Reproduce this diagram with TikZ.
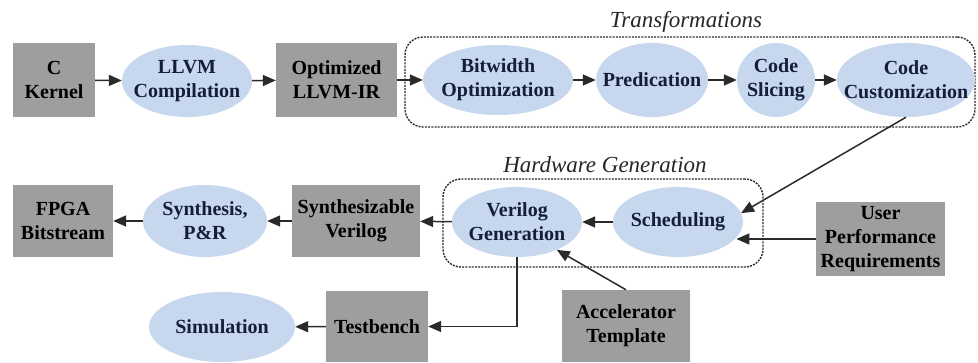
\documentclass[tikz,border=0pt]{standalone}
\usepackage{fontspec}
\setmainfont{Liberation Serif}
\usetikzlibrary{arrows.meta,shapes.geometric}
\definecolor{boxgray}{HTML}{9E9E9E}
\definecolor{ellblue}{HTML}{C6D7EE}
\definecolor{elltext}{HTML}{141E36}
\definecolor{linegray}{HTML}{2A2A2A}
\begin{document}
\begin{tikzpicture}[x=1pt,y=-1pt,
  gbox/.style={rectangle, fill=boxgray, draw=none, inner sep=0pt, align=center,
    font=\fontsize{20}{24}\selectfont\bfseries, text=black},
  ell/.style={ellipse, fill=ellblue, draw=none, inner sep=0pt},
  etxt/.style={align=center, font=\fontsize{20}{24}\selectfont\bfseries, text=elltext, inner sep=0pt},
  flow/.style={draw=linegray, line width=1.5pt, -{Triangle[length=13pt,width=11pt]}},
  group/.style={rectangle, draw=linegray, line width=1.4pt, dash pattern=on 2pt off 1.2pt,
    rounded corners=18pt, inner sep=0pt},
  glabel/.style={font=\fontsize{23}{26}\selectfont\itshape, text=black!85, inner sep=0pt, anchor=base}
]
\useasboundingbox (0,0) rectangle (978,362);

% group frames
\node[group, minimum width=570pt, minimum height=90pt] (trbox) at (690,82) {};
\node[glabel] (trlab) at (686,27) {Transformations};
\node[group, minimum width=320pt, minimum height=88pt] (hwbox) at (603,223) {};
\node[glabel] (hwlab) at (605,172) {Hardware Generation};

% top row
\node[gbox, minimum width=82pt, minimum height=74pt] (ck) at (54,80) {C\\Kernel};
\node[ell, minimum width=130pt, minimum height=72pt, label={[etxt]center:{LLVM\\Compilation}}] (llvm) at (187,81) {};
\node[gbox, minimum width=121pt, minimum height=74pt] (oir) at (336.5,80) {Optimized\\LLVM-IR};
\node[ell, minimum width=150pt, minimum height=70pt, label={[etxt]center:{Bitwidth\\Optimization}}] (bw) at (498,80) {};
\node[ell, minimum width=112pt, minimum height=74pt, label={[etxt]center:{Predication}}] (pred) at (652,80) {};
\node[ell, minimum width=78pt, minimum height=74pt, label={[etxt]center:{Code\\Slicing}}] (cs) at (776,80) {};
\node[ell, minimum width=138pt, minimum height=74pt, label={[etxt]center:{Code\\Customization}}] (cc) at (906,80) {};

% middle row
\node[gbox, minimum width=100pt, minimum height=72pt] (fpga) at (63,221) {FPGA\\Bitstream};
\node[ell, minimum width=124pt, minimum height=72pt, label={[etxt]center:{Synthesis,\\P\&R}}] (syn) at (205,221) {};
\node[gbox, minimum width=128pt, minimum height=72pt] (sv) at (356,221) {Synthesizable\\Verilog};
\node[ell, minimum width=130pt, minimum height=70pt, label={[etxt]center:{Verilog\\Generation}}] (vg) at (517,222) {};
\node[ell, minimum width=130pt, minimum height=70pt, label={[etxt]center:{Scheduling}}] (sch) at (678,222) {};
\node[gbox, minimum width=129pt, minimum height=74pt] (upr) at (880.5,239) {User\\Performance\\Requirements};

% bottom row
\node[ell, minimum width=146pt, minimum height=70pt, label={[etxt]center:{Simulation}}] (sim) at (222,327) {};
\node[gbox, minimum width=102pt, minimum height=71pt] (tb) at (377,326.5) {Testbench};
\node[gbox, minimum width=128pt, minimum height=72pt] (at) at (626,326) {Accelerator\\Template};

% connectors
\draw[flow] (ck) -- (llvm);
\draw[flow] (llvm) -- (oir);
\draw[flow] (oir) -- (bw);
\draw[flow] (bw) -- (pred);
\draw[flow] (pred) -- (cs);
\draw[flow] (cs) -- (cc);
\draw[flow] (cc.south) -- (sch.8);
\draw[flow] (upr.west) -- (sch.-15 |- upr.west);
\draw[flow] (sch) -- (vg);
\draw[flow] (vg) -- (sv);
\draw[flow] (sv) -- (syn);
\draw[flow] (syn) -- (fpga);
\draw[flow] (at.north) -- (vg.-35);
\draw[flow] (vg.south) |- (tb.east);
\draw[flow] (tb) -- (sim);
\end{tikzpicture}
\end{document}
